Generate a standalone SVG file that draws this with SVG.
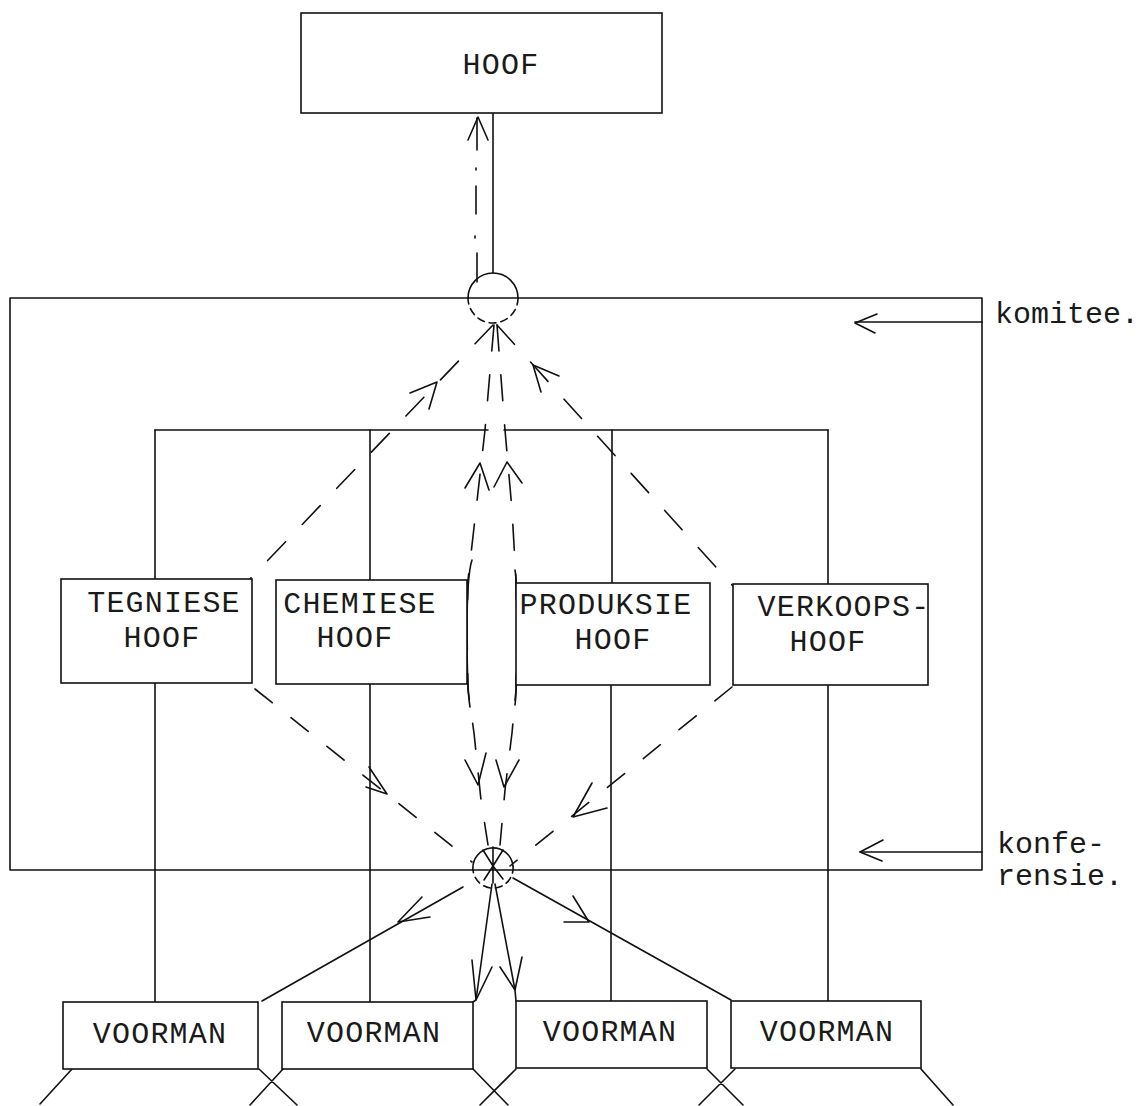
<svg xmlns="http://www.w3.org/2000/svg" width="1146" height="1106" viewBox="0 0 1146 1106">
  <style>
    .ln { stroke: #111; stroke-width: 1.6; fill: none; stroke-linecap: round; stroke-linejoin: round; }
    .box { fill: #fff; stroke: #111; stroke-width: 1.6; }
    .dsh { stroke-dasharray: 26 24; }
    .dsh2 { stroke-dasharray: 22 24; }
    .dot { stroke-dasharray: 7 5; }
    .ah { stroke: #111; stroke-width: 1.6; fill: none; stroke-linecap: round; stroke-linejoin: round; }
    .t { font-family: "Liberation Mono", "DejaVu Sans Mono", monospace; font-size: 30px; letter-spacing: 1.2px; fill: #1a1a1a; text-anchor: middle; }
    .lbl { font-family: "Liberation Mono", "DejaVu Sans Mono", monospace; font-size: 30px; fill: #1a1a1a; }
  </style>
  <rect width="1146" height="1106" fill="#fff"/>

  <!-- frame separating komitee and konferensie levels -->
  <g id="frame">
    <rect class="ln" x="10" y="298" width="972" height="572"/>
  </g>

  <g id="connectors">
    <!-- hoof to komitee -->
    <line class="ln" x1="493" y1="113" x2="493" y2="273"/>
    <path class="ln" d="M477,118 V150 M476,168 V170 M476,186 V214 M475,236 V238 M477,253 V282"/>
    <polyline class="ah" points="468,140 478,117 488,140"/>

    <!-- organisation tree -->
    <path class="ln" d="M155,430 H488 M504,430 H828"/>
    <path class="ln" d="M155,430 V579 M155,683 V1002"/>
    <path class="ln" d="M370,430 V580 M370,684 V1002"/>
    <path class="ln" d="M612,430 V583 M611,685 V1001"/>
    <path class="ln" d="M828,430 V584 M828,685 V1001"/>

    <!-- komitee circle out to heads -->
    <line class="ln dsh" x1="493" y1="325" x2="250" y2="579"/>
    <polyline class="ah" points="410,393 437,382 429,409"/>
    <line class="ln dsh" x1="497" y1="325" x2="733" y2="586"/>
    <polyline class="ah" points="541,392 533,365 559,376"/>

    <!-- central lens between the two circles -->
    <polyline class="ln dsh" points="494,325 485,430 476,510 468,580 467,630 468,690 474,733 481,800 488,845"/>
    <polyline class="ln dsh" points="497,325 505,430 512,510 516,580 517,630 516,690 512,733 505,790 500,845"/>
    <path class="ln" d="M472,560 Q467,575 467,630 Q467,690 470,707"/>
    <path class="ln" d="M515,570 Q517,580 517,630 Q517,690 515,705"/>
    <polyline class="ah" points="465,488 480,463 489,490"/>
    <polyline class="ah" points="494,487 507,462 522,483"/>
    <polyline class="ah" points="465,760 478,785 486,753"/>
    <polyline class="ah" points="496,760 504,787 519,760"/>

    <!-- heads in to konferensie circle -->
    <line class="ln dsh2" x1="255" y1="689" x2="472" y2="862"/>
    <polyline class="ah" points="369,767 387,794 366,787"/>
    <line class="ln dsh2" x1="732" y1="687" x2="510" y2="866"/>
    <polyline class="ah" points="592,783 573,817 607,808"/>

    <!-- konferensie circle out to voormen -->
    <line class="ln" x1="463" y1="887" x2="262" y2="1001"/>
    <polyline class="ah" points="422,897 398,922 430,917"/>
    <line class="ln" x1="513" y1="878" x2="731" y2="1000"/>
    <polyline class="ah" points="573,896 589,922 564,922"/>
    <polyline class="ln" points="492,884 476,1000 473,1002"/>
    <polyline class="ah" points="472,960 476,1000 492,967"/>
    <polyline class="ln" points="495,884 515,990 516,1001"/>
    <polyline class="ah" points="500,967 515,990 522,957"/>

    <!-- lines below the voormen -->
    <path class="ln" d="M72,1069 L40,1104 M259,1069 L297,1105 M283,1069 L250,1105 M473,1069 L508,1105 M516,1069 L480,1105 M707,1069 L743,1105 M735,1069 L699,1105 M921,1069 L953,1105"/>

    <!-- side labels -->
    <path class="ln" d="M982,322 H855"/>
    <polyline class="ah" points="877,314 855,323 875,333"/>
    <path class="ln" d="M982,852 H860"/>
    <polyline class="ah" points="883,840 860,852 882,861"/>
  </g>

  <!-- komitee circle -->
  <g id="komitee-circle">
    <path class="ln" d="M468,298 A25,25 0 0 1 518,298"/>
    <path class="ln dot" d="M518,298 A25,25 0 0 1 468,298"/>
  </g>

  <!-- konferensie circle -->
  <g id="konferensie-circle">
    <path class="ln" d="M473,870 A20,20 0 0 1 513,866"/>
    <path class="ln dot" d="M513,866 A20,20 0 0 1 473,870"/>
    <path class="ln" d="M493,866 L483,850 M493,866 L493,847 M493,866 L503,850 M493,866 L484,880 M493,866 L493,883 M493,866 L503,879"/>
  </g>

  <g id="hoof">
    <rect class="box" x="301" y="13" width="361" height="100"/>
    <text class="t" x="501" y="74">HOOF</text>
  </g>

  <g id="tegniese-hoof">
    <rect class="box" x="61" y="579" width="191" height="104"/>
    <text class="t" x="164" y="612">TEGNIESE</text>
    <text class="t" x="162" y="647">HOOF</text>
  </g>

  <g id="chemiese-hoof">
    <rect class="box" x="276" y="580" width="191" height="104"/>
    <text class="t" x="360" y="613">CHEMIESE</text>
    <text class="t" x="355" y="647">HOOF</text>
  </g>

  <g id="produksie-hoof">
    <rect class="box" x="516" y="583" width="194" height="102"/>
    <text class="t" x="606" y="614">PRODUKSIE</text>
    <text class="t" x="613" y="649">HOOF</text>
  </g>

  <g id="verkoops-hoof">
    <rect class="box" x="733" y="584" width="195" height="101"/>
    <text class="t" x="844" y="616">VERKOOPS-</text>
    <text class="t" x="828" y="651">HOOF</text>
  </g>

  <g id="voorman-1">
    <rect class="box" x="63" y="1002" width="195" height="67"/>
    <text class="t" x="160" y="1043">VOORMAN</text>
  </g>
  <g id="voorman-2">
    <rect class="box" x="282" y="1002" width="191" height="67"/>
    <text class="t" x="374" y="1042">VOORMAN</text>
  </g>
  <g id="voorman-3">
    <rect class="box" x="516" y="1001" width="191" height="67"/>
    <text class="t" x="610" y="1041">VOORMAN</text>
  </g>
  <g id="voorman-4">
    <rect class="box" x="731" y="1001" width="190" height="67"/>
    <text class="t" x="827" y="1041">VOORMAN</text>
  </g>

  <g id="labels">
    <text class="lbl" x="995" y="323">komitee.</text>
    <text class="lbl" x="997" y="853">konfe-</text>
    <text class="lbl" x="997" y="885">rensie.</text>
  </g>
</svg>
